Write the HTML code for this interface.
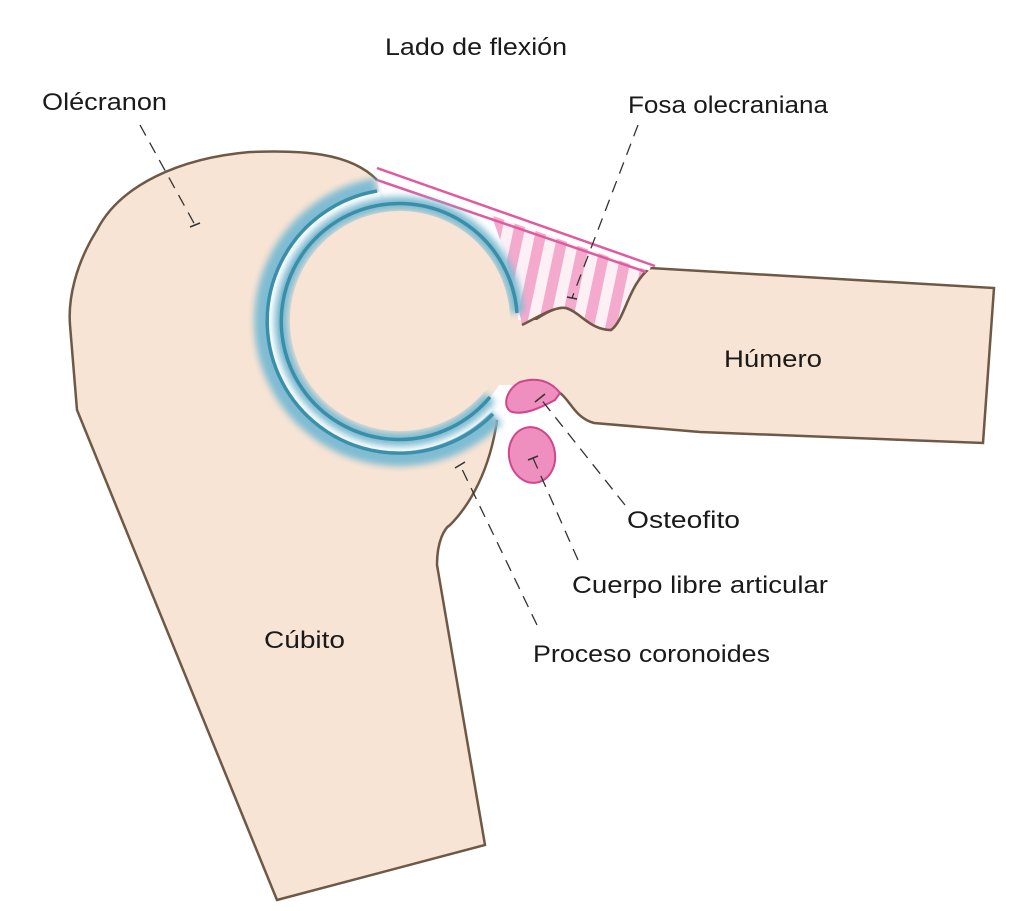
<!DOCTYPE html>
<html><head><meta charset="utf-8"><style>
html,body{margin:0;padding:0;background:#fff;}
svg{display:block;}
text{font-family:"Liberation Sans",sans-serif;font-size:24px;fill:#1a1a1a;}
</style></head><body>
<svg width="1024" height="911" viewBox="0 0 1024 911" xmlns="http://www.w3.org/2000/svg">
<defs>
<pattern id="str" patternUnits="userSpaceOnUse" width="22" height="22" patternTransform="rotate(12)">
<rect width="22" height="22" fill="#fdf0f5"/>
<rect width="11" height="22" fill="#f3aacd"/>
</pattern>
<filter id="blur" x="-20%" y="-20%" width="140%" height="140%"><feGaussianBlur stdDeviation="3.5"/></filter>
</defs>
<!-- Humerus -->
<path d="M520,330 C540,316 555,306 566,308 C580,312 590,330 611,330 C625,320 628,285 650,268 L994,288 L983,443 L700,432 L594,423 C575,418 570,400 560,393 C548,382 535,378 520,382 Z" fill="#f8e4d4" stroke="#6e5846" stroke-width="2.5"/>
<rect x="495" y="320" width="45" height="65" fill="#f8e4d4"/>
<!-- Ulna fill -->
<path d="M377,180 C350,152 300,150 250,152 C180,158 120,185 97,230 C75,265 68,300 70,325 L77,410 L277,900 L485,845 L437,565 C437,540 445,528 450,525 C470,505 490,470 497,420 L400,321 Z" fill="#f8e4d4"/>
<path d="M377,180 C350,152 300,150 250,152 C180,158 120,185 97,230 C75,265 68,300 70,325 L77,410 L277,900 L485,845 L437,565 C437,540 445,528 450,525 C470,505 490,470 497,420" fill="none" stroke="#6e5846" stroke-width="2.5"/>
<!-- striped fossa -->
<path d="M490,212 L650,268 C628,285 625,320 611,330 C590,330 580,312 566,308 C555,306 540,316 522,325 C515,290 505,250 490,212 Z" fill="url(#str)"/>
<path d="M522,325 C540,316 555,306 566,308 C580,312 590,330 611,330 C625,320 628,285 650,268" fill="none" stroke="#6e5846" stroke-width="2.5"/>
<!-- ligament -->
<path d="M377,168 L655,266" stroke="#e05aa0" stroke-width="2.5" fill="none"/>
<path d="M377,180 L646,272" stroke="#e05aa0" stroke-width="2.5" fill="none"/>
<path d="M380,174 L650,269" stroke="#fff" stroke-width="4" fill="none"/>
<!-- cartilage -->
<g fill="none">
<path d="M377,191 A132,132 0 1 0 493,414" stroke="#7fbcd3" stroke-width="26" filter="url(#blur)"/>
<path d="M381,197 A125,125 0 1 0 489,406" stroke="#fff" stroke-width="11"/>
<path d="M377,191 A132,132 0 1 0 493,414" stroke="#3a8fa8" stroke-width="3.5"/>
</g>
<circle cx="400" cy="321" r="118" fill="#f8e4d4"/>
<path d="M517,313 A118,118 0 1 0 490,397" fill="none" stroke="#7fbcd3" stroke-width="14" filter="url(#blur)"/>
<path d="M517,313 A118,118 0 1 0 490,397" fill="none" stroke="#3a8fa8" stroke-width="3.5"/>
<circle cx="400" cy="321" r="110" fill="#f8e4d4"/>
<rect x="505" y="328" width="25" height="52" fill="#f8e4d4"/>
<!-- osteophyte & loose body -->
<path d="M520,382 C535,377 550,380 560,393 L555,400 C540,408 525,415 512,412 C502,408 505,390 520,382 Z" fill="#ee8fbf" stroke="#d0458c" stroke-width="2"/>
<ellipse cx="532" cy="455" rx="23" ry="28" fill="#ee8fbf" stroke="#d0458c" stroke-width="2" transform="rotate(-10 532 455)"/>
<!-- leaders -->
<g stroke="#333" stroke-width="1.3" fill="none" stroke-dasharray="12,8">
<path d="M140,125 L195,225"/>
<path d="M638,125 L572,298"/>
<path d="M625,505 L540,398"/>
<path d="M578,560 L533,458"/>
<path d="M537,625 L460,465"/>
</g>
<g stroke="#333" stroke-width="1.5">
<path d="M190,227 L200,223"/><path d="M567,297 L577,299"/><path d="M535,402 L545,394"/><path d="M528,460 L538,456"/><path d="M455,468 L465,462"/>
</g>
<!-- labels -->
<g>
<text x="385" y="55" textLength="182" lengthAdjust="spacingAndGlyphs">Lado de flexión</text>
<text x="42" y="110" textLength="125" lengthAdjust="spacingAndGlyphs">Olécranon</text>
<text x="628" y="113" textLength="200" lengthAdjust="spacingAndGlyphs">Fosa olecraniana</text>
<text x="724" y="367" textLength="98" lengthAdjust="spacingAndGlyphs">Húmero</text>
<text x="627" y="528" textLength="113" lengthAdjust="spacingAndGlyphs">Osteofito</text>
<text x="572" y="593" textLength="256" lengthAdjust="spacingAndGlyphs">Cuerpo libre articular</text>
<text x="533" y="662" textLength="237" lengthAdjust="spacingAndGlyphs">Proceso coronoides</text>
<text x="264" y="648" textLength="81" lengthAdjust="spacingAndGlyphs">Cúbito</text>
</g>
</svg>
</body></html>
